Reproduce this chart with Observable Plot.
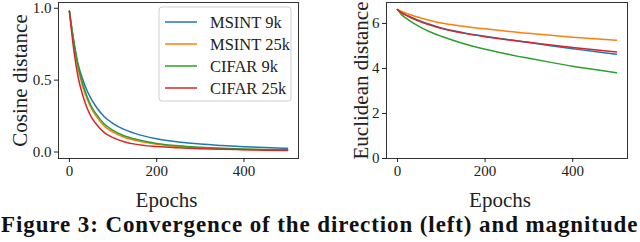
<!DOCTYPE html>
<html>
<head>
<meta charset="utf-8">
<script src="https://cdn.jsdelivr.net/npm/d3@7"></script>
<script src="https://cdn.jsdelivr.net/npm/@observablehq/plot@0.6"></script>
<style>
  html, body { margin: 0; padding: 0; background: #fff; }
  #wrap { position: relative; width: 640px; height: 242px; overflow: hidden; }
  #row { display: flex; position: absolute; left: 0; top: 0; }
  #caption { position: absolute; left: 1px; top: 211px; white-space: nowrap;
    font-family: "Liberation Serif", serif; font-weight: bold; font-size: 23px; letter-spacing: 0.9px; color: #111; line-height: 28px; }
</style>
</head>
<body>
<div id="wrap">
  <div id="row"></div>
  <div id="caption">Figure 3: Convergence of the direction (left) and magnitude</div>
</div>
<script>
const seriesNames = ["MSINT 9k", "MSINT 25k", "CIFAR 9k", "CIFAR 25k"];
const seriesColors = ["#1f77b4", "#ff7f0e", "#2ca02c", "#d62728"];

// Left panel: cosine distance
const cosEpochs   = [0, 10, 20, 30, 40, 50, 60, 80, 100, 125, 150, 200, 250, 300, 350, 400, 450, 500];
const cosMsint9k  = [0.98, 0.77, 0.61, 0.51, 0.43, 0.37, 0.32, 0.245, 0.198, 0.158, 0.13, 0.092, 0.070, 0.055, 0.045, 0.037, 0.031, 0.026];
const cosMsint25k = [0.98, 0.75, 0.58, 0.46, 0.375, 0.305, 0.255, 0.18, 0.138, 0.103, 0.082, 0.054, 0.038, 0.029, 0.023, 0.018, 0.015, 0.013];
const cosCifar9k  = [0.98, 0.77, 0.60, 0.48, 0.39, 0.32, 0.27, 0.195, 0.15, 0.113, 0.09, 0.06, 0.043, 0.033, 0.026, 0.021, 0.018, 0.016];
const cosCifar25k = [0.98, 0.71, 0.52, 0.40, 0.31, 0.245, 0.20, 0.135, 0.10, 0.072, 0.055, 0.038, 0.029, 0.023, 0.019, 0.016, 0.013, 0.011];

// Right panel: euclidean distance
const eucEpochs   = [0, 10, 25, 50, 75, 100, 150, 200, 250, 300, 350, 400, 450, 500];
const eucMsint9k  = [6.62, 6.48, 6.33, 6.12, 5.95, 5.80, 5.59, 5.43, 5.29, 5.15, 5.01, 4.88, 4.75, 4.63];
const eucMsint25k = [6.62, 6.53, 6.42, 6.26, 6.13, 6.02, 5.88, 5.76, 5.65, 5.56, 5.47, 5.39, 5.32, 5.25];
const eucCifar9k  = [6.62, 6.38, 6.16, 5.86, 5.62, 5.43, 5.11, 4.85, 4.64, 4.45, 4.27, 4.10, 3.95, 3.81];
const eucCifar25k = [6.62, 6.47, 6.31, 6.10, 5.93, 5.78, 5.57, 5.41, 5.28, 5.16, 5.04, 4.93, 4.83, 4.73];

const xTicks = [0, 200, 400];
const cosTicks = [0, 0.5, 1.0];
const eucTicks = [0, 2, 4, 6];

function toRows(epochs, lists) {
  const rows = [];
  lists.forEach((vals, i) => vals.forEach((v, j) => rows.push({epoch: epochs[j], value: v, series: seriesNames[i]})));
  return rows;
}
const cosRows = toRows(cosEpochs, [cosMsint9k, cosMsint25k, cosCifar9k, cosCifar25k]);
const eucRows = toRows(eucEpochs, [eucMsint9k, eucMsint25k, eucCifar9k, eucCifar25k]);

const font = "'Liberation Serif', 'DejaVu Serif', serif";

function panel({rows, yDomain, yTicks, yFmt, yLabel, marginLeft, marginRight, xLabelDx, yLabelDx}) {
  return Plot.plot({
    width: 320, height: 212,
    marginLeft, marginRight, marginTop: 2, marginBottom: 54,
    style: {fontFamily: font, fontSize: "15px", color: "#222", background: "white"},
    x: {domain: [-25, 525]},
    y: {domain: yDomain},
    color: {domain: seriesNames, range: seriesColors},
    marks: [
      Plot.frame({stroke: "#333", strokeWidth: 1}),
      Plot.axisX({ticks: xTicks, tickSize: 4, tickPadding: 3, label: null, fontSize: 15}),
      Plot.axisY({ticks: yTicks, tickSize: 4, tickPadding: 3, tickFormat: yFmt, label: null, fontSize: 15}),
      Plot.line(rows, {x: "epoch", y: "value", z: "series", stroke: "series", strokeWidth: 1.5, curve: "monotone-x"}),
      Plot.text(["Epochs"], {frameAnchor: "bottom", dy: 42, dx: xLabelDx, lineAnchor: "middle", textAnchor: "middle", fontSize: 21, fill: "#222"}),
      Plot.text([yLabel], {frameAnchor: "left", dx: yLabelDx, rotate: -90, textAnchor: "middle", lineAnchor: "middle", fontSize: 21, fill: "#222"})
    ]
  });
}

const left = panel({rows: cosRows, yDomain: [-0.045, 1.04], yTicks: cosTicks, yFmt: d3.format(".1f"),
  yLabel: "Cosine distance", marginLeft: 58, marginRight: 22, xLabelDx: -12, yLabelDx: -38});
const right = panel({rows: eucRows, yDomain: [0, 6.93], yTicks: eucTicks, yFmt: d3.format("d"),
  yLabel: "Euclidean distance", marginLeft: 66, marginRight: 13, xLabelDx: -7, yLabelDx: -25});

// Legend inside left panel
const svgL = d3.select(left);
const lg = svgL.append("g").attr("font-family", font).attr("font-size", 16.5).attr("text-anchor", "start");
lg.append("rect").attr("x", 159).attr("y", 7).attr("width", 132).attr("height", 94)
  .attr("rx", 3).attr("fill", "white").attr("fill-opacity", 0.85).attr("stroke", "#d0d0d0");
seriesNames.forEach((name, i) => {
  const y = 22 + i * 22;
  lg.append("line").attr("x1", 165).attr("x2", 197).attr("y1", y).attr("y2", y)
    .attr("stroke", seriesColors[i]).attr("stroke-width", 1.5);
  lg.append("text").attr("x", 210).attr("y", y).attr("dy", "0.35em").attr("fill", "#222").text(name);
});

document.getElementById("row").append(left, right);
</script>
</body>
</html>
